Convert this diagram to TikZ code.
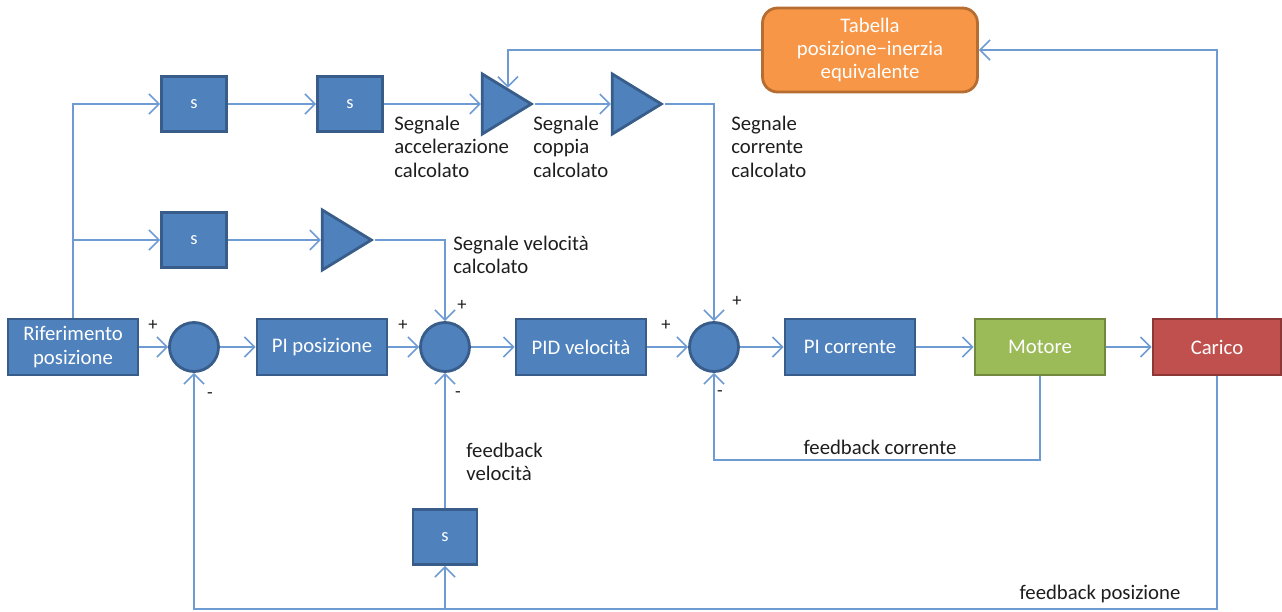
\documentclass[tikz,border=0pt]{standalone}
\usepackage{fontspec}
\setmainfont{Carlito}
\usetikzlibrary{arrows.meta,shapes.geometric}
\definecolor{bfill}{RGB}{79,129,189}
\definecolor{bdraw}{RGB}{56,93,138}
\definecolor{ofill}{RGB}{247,150,70}
\definecolor{odraw}{RGB}{182,109,49}
\definecolor{gfill}{RGB}{155,187,89}
\definecolor{gdraw}{RGB}{113,137,63}
\definecolor{rfill}{RGB}{192,80,77}
\definecolor{rdraw}{RGB}{140,56,54}
\definecolor{wire}{RGB}{110,155,210}
\definecolor{ink}{RGB}{30,30,30}
\tikzset{
  blk/.style={draw=bdraw, fill=bfill, line width=1.6pt, text=white,
    minimum width=2.6cm, minimum height=1.12cm, inner sep=1pt, align=center,
    font=\fontsize{11.8}{13.2}\selectfont},
  der/.style={blk, minimum width=1.3cm, minimum height=1.1cm,
    font=\fontsize{10.5}{12}\selectfont},
  gain/.style={isosceles triangle, isosceles triangle stretches, draw=bdraw,
    fill=bfill, line width=1.6pt, minimum height=0.98cm, minimum width=1.2cm,
    inner sep=0pt},
  sumnode/.style={circle, draw=bdraw, fill=bfill, line width=1.6pt,
    minimum size=0.98cm, inner sep=0pt},
  wirel/.style={draw=wire, line width=0.9pt},
  sig/.style={wirel, -{Straight Barb[length=2mm,width=4mm]}},
  lbl/.style={text=ink, align=left, inner sep=0pt,
    font=\fontsize{11.8}{13.2}\selectfont},
  sgn/.style={text=ink, inner sep=0pt, font=\fontsize{10.5}{11}\selectfont}
}
\begin{document}
\begin{tikzpicture}[x=0.02cm, y=-0.02cm]
\useasboundingbox (0,0) rectangle (1282,612);

% upper feedforward chain
\node[der] (s1) at (194,104) {s};
\node[der] (s2) at (350,104) {s};
\node[gain, anchor=apex] (k1) at (535,104) {};
\node[gain, anchor=apex] (k2) at (665,104) {};
\node[draw=odraw, fill=ofill, line width=1.6pt, rounded corners=0.3cm,
  text=white, minimum width=4.3cm, minimum height=1.68cm, align=center,
  inner sep=1pt, font=\fontsize{11.8}{13.2}\selectfont]
  (tab) at (870,50) {Tabella\\posizione−inerzia\\equivalente};

% velocity feedforward
\node[der] (s3) at (194,240) {s};
\node[gain, anchor=apex] (k3) at (375,240) {};

% main loop
\node[blk] (ref) at (73,347) {Riferimento\\posizione};
\node[sumnode] (e1) at (194,347) {};
\node[blk] (pip) at (322,347) {PI posizione};
\node[sumnode] (e2) at (445,347) {};
\node[blk] (pid) at (581,347) {PID velocità};
\node[sumnode] (e3) at (714,347) {};
\node[blk] (pic) at (850,347) {PI corrente};
\node[blk, draw=gdraw, fill=gfill] (mot) at (1040,347) {Motore};
\node[blk, draw=rdraw, fill=rfill, minimum width=2.56cm] (car) at (1217,347) {Carico};
\node[der, minimum width=1.28cm] (s4) at (445,537) {s};

% routing points
\coordinate (fbc) at (1040,460);
\coordinate (fbp) at (1217,609);

% feedforward wiring
\draw[sig] (ref.north) |- (s1.west);
\draw[sig] (ref.north) |- (s3.west);
\draw[sig] (s1) -- (s2);
\draw[sig] (s2.east) -- (k1.west);
\draw[sig] (k1.apex) -- (k2.west);
\draw[sig] (k2.apex) -| (e3.north);
\draw[sig] (s3.east) -- (k3.west);
\draw[sig] (k3.apex) -| (e2.north);
\draw[sig] (car.north) |- (tab.east);
\draw[sig] (tab.west) -| (k1.left side);

% forward path
\draw[sig] (ref) -- (e1);
\draw[sig] (e1) -- (pip);
\draw[sig] (pip) -- (e2);
\draw[sig] (e2) -- (pid);
\draw[sig] (pid) -- (e3);
\draw[sig] (e3) -- (pic);
\draw[sig] (pic) -- (mot);
\draw[sig] (mot) -- (car);

% feedback paths
\draw[sig] (mot.south) -- (fbc) -| (e3.south);
\draw[sig] (car.south) -- (fbp) -| (e1.south);
\draw[sig] (s4.south |- fbp) -- (s4.south);
\draw[sig] (s4.north) -- (e2.south);

% labels
\node[lbl, anchor=north west] (la) at (394,116) {Segnale\\accelerazione\\calcolato};
\node[lbl, anchor=north west] (lc) at (533,116) {Segnale\\coppia\\calcolato};
\node[lbl, anchor=north west] (li) at (731,116) {Segnale\\corrente\\calcolato};
\node[lbl, anchor=north west] (lv) at (453,236) {Segnale velocità\\calcolato};
\node[lbl, anchor=north west] (lfv) at (466,443) {feedback\\velocità};
\node[lbl] (lfc) at (880,447) {feedback corrente};
\node[lbl] (lfp) at (1100,594) {feedback posizione};

% summing-junction signs
\node[sgn] (p1) at (153,325) {+};
\node[sgn] (m1) at (210,396) {-};
\node[sgn] (p2) at (403,325) {+};
\node[sgn] (p2b) at (462,305) {+};
\node[sgn] (m2) at (458,395) {-};
\node[sgn] (p3) at (666,325) {+};
\node[sgn] (p3b) at (737,301) {+};
\node[sgn] (m3) at (720,394) {-};
\end{tikzpicture}
\end{document}
